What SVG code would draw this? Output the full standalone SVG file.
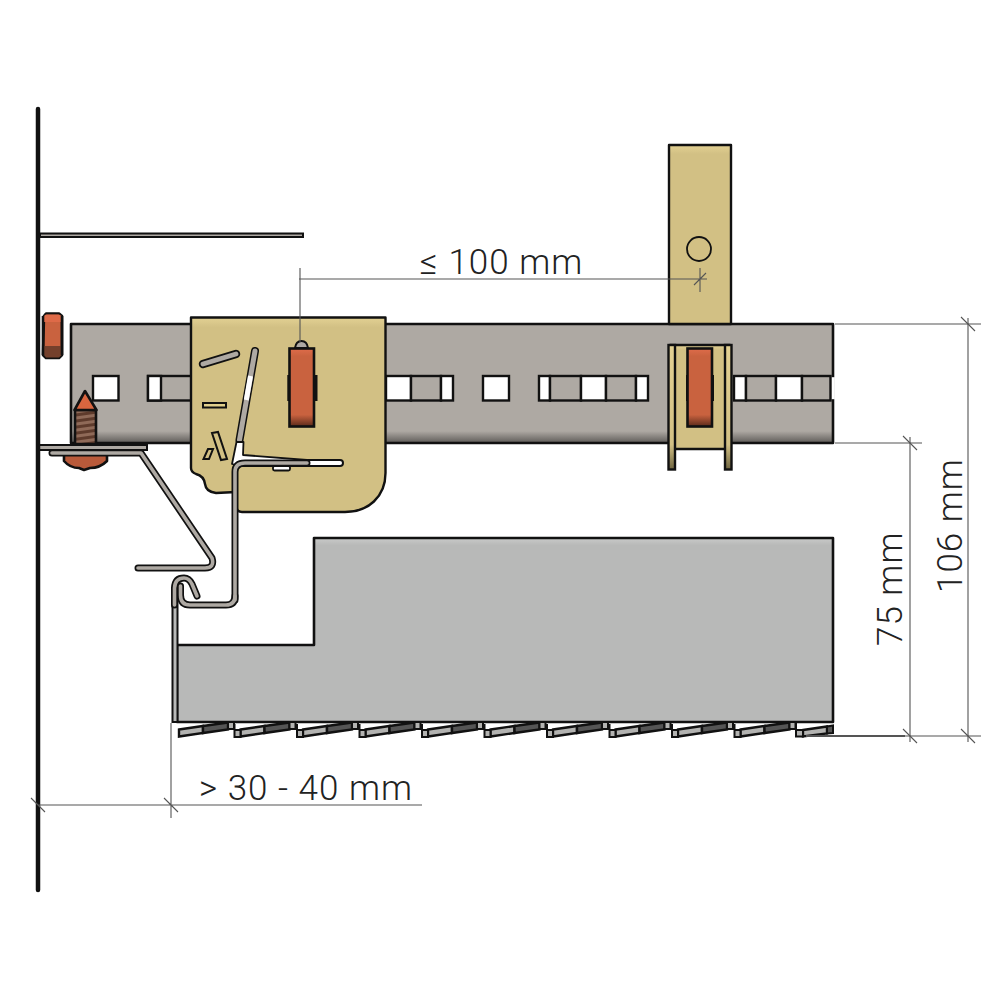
<svg xmlns="http://www.w3.org/2000/svg" xmlns:xlink="http://www.w3.org/1999/xlink" width="1000" height="1000" viewBox="0 0 1000 1000">
<style>
.o{stroke:#111;stroke-width:2.6;stroke-linejoin:round}
.rail{fill:url(#railG)}
.w{fill:#fff;stroke:#111;stroke-width:2.4}
.g{fill:#aea9a3;stroke:#111;stroke-width:2.4}
.y{fill:url(#yelG);stroke:#111;stroke-width:2.4;stroke-linejoin:round}
.yf{fill:url(#flG);stroke:#111;stroke-width:2.4}
.red{fill:url(#redG);stroke:#111;stroke-width:2.6}
.sb{fill:none;stroke:#111;stroke-width:7;stroke-linejoin:round;stroke-linecap:round}
.sg{fill:none;stroke:#aea9a3;stroke-width:3.600;stroke-linejoin:round;stroke-linecap:round}
.dim{fill:none;stroke:#555;stroke-width:1.100}
.t{font-family:"Roboto","Liberation Sans",sans-serif;font-weight:300;font-size:35px;fill:#222;letter-spacing:1px}
.tl{fill:#b3b3b1}.td{fill:#555}
</style>
<defs>
<linearGradient id="railG" x1="0" y1="0" x2="0" y2="1"><stop offset="0" stop-color="#aea9a3"/><stop offset=".9" stop-color="#aea9a3"/><stop offset="1" stop-color="#5e5b58"/></linearGradient>
<linearGradient id="yelG" x1="0" y1="0" x2="0" y2="1"><stop offset="0" stop-color="#e3d193"/><stop offset=".05" stop-color="#d2c084"/><stop offset="1" stop-color="#d2c084"/></linearGradient>
<linearGradient id="flG" x1="0" y1="0" x2="0" y2="1"><stop offset="0" stop-color="#e3d193"/><stop offset=".8" stop-color="#d2c084"/><stop offset="1" stop-color="#6e6440"/></linearGradient>
<linearGradient id="redG" x1="0" y1="0" x2="0" y2="1"><stop offset="0" stop-color="#df6c4a"/><stop offset=".1" stop-color="#c9623f"/><stop offset=".85" stop-color="#c9623f"/><stop offset="1" stop-color="#5a2a1a"/></linearGradient>
<linearGradient id="boxG" x1="0" y1="0" x2="0" y2="1"><stop offset="0" stop-color="#c9cac9"/><stop offset=".04" stop-color="#b8b9b8"/><stop offset="1" stop-color="#b8b9b8"/></linearGradient>
<pattern id="thread" width="8" height="6" patternUnits="userSpaceOnUse" patternTransform="rotate(-8)"><rect width="8" height="6" fill="#8f6a58"/><rect width="8" height="3" fill="#5e3b2c"/></pattern>
<g id="toothBody">
<path d="M0 7.500 L24 4 V11 L0 14.500Z" class="tl" stroke="#111" stroke-width="2.400"/>
<path d="M24 4 L49 0.500 V7.500 L24 11Z" class="td" stroke="#111" stroke-width="2.400"/>
<rect x="49" y="0" width="6" height="7" fill="#b3b3b1" stroke="#111" stroke-width="2"/>
</g>
<g id="tooth">
<use xlink:href="#toothBody"/>
<path d="M-6 2 V15 H0 V8 H-6" fill="#b3b3b1" stroke="#111" stroke-width="2"/>
</g>
</defs>
<rect width="1000" height="1000" fill="#fff"/>

<g id="upper-plate"><rect x="40" y="233.500" width="263" height="3.500" fill="#aea9a3" stroke="#111" stroke-width="2"/></g>

<g id="rail">
<rect class="rail o" x="71" y="324" width="762" height="119"/>
<rect class="w" x="93" y="376" width="25.500" height="24.500"/>
<rect class="g" x="148" y="376" width="44" height="24.500"/><rect class="w" x="148" y="376" width="13" height="24.500"/>
<rect class="w" x="386" y="376" width="25" height="24.500"/><rect class="g" x="411" y="376" width="30" height="24.500"/><rect class="w" x="441" y="376" width="12" height="24.500"/>
<rect class="w" x="483" y="376" width="26" height="24.500"/>
<rect class="w" x="539" y="376" width="11" height="24.500"/><rect class="g" x="550" y="376" width="31" height="24.500"/><rect class="w" x="581" y="376" width="25" height="24.500"/><rect class="g" x="606" y="376" width="30" height="24.500"/><rect class="w" x="636" y="376" width="12" height="24.500"/>
<rect class="w" x="734" y="376" width="12" height="24.500"/><rect class="g" x="746" y="376" width="30" height="24.500"/><rect class="w" x="776" y="376" width="26" height="24.500"/><rect class="g" x="802" y="376" width="28.500" height="24.500"/>
<rect x="831.800" y="377.200" width="3" height="22" fill="#fff"/>
</g>

<g id="hanger">
<rect class="y" x="669" y="145" width="62" height="179"/>
<circle cx="699" cy="249" r="12" fill="none" stroke="#111" stroke-width="1.800"/>
<rect class="y" x="670" y="345" width="60" height="104"/>
<rect class="yf" x="668.500" y="345" width="6.500" height="124.500"/>
<rect class="yf" x="725" y="345" width="6.500" height="124.500"/>
<rect x="686" y="375" width="28" height="26" fill="#111"/>
<rect class="red" x="687.500" y="348.500" width="24.500" height="78"/>
</g>

<g id="bolt">
<path class="o" d="M44 316 L46 313.500 H59 L62 316 V355 L59 358 H46 L43 355Z" fill="#c9623f"/>
<path d="M44 346 H61.500 V355 L59 357.500 H46 L44 355Z" fill="#74402c"/>
<path d="M44 322 H61.500 V316 L59 314.500 H46 L44 316Z" fill="#de6a48"/>
<path d="M43 316 V355 M62 316 V355" stroke="#111" stroke-width="2.600"/>
<rect class="o" x="75" y="410" width="21" height="34" fill="url(#thread)"/>
<path class="o" d="M85 391 L74.500 410 H96.500Z" fill="#d9653f"/>
<path class="o" d="M64 454 H107 V461 Q100 468 90 468 L84 470 L79 468 Q70 468 64 461Z" fill="#b95a3a"/>
</g>

<g id="clip-plate">
<path class="y" d="M191 317.500 H385.500 V473 C385.500 497 368 512 345 512 H242 Q236 512 236 505 V492 L216 493 Q206 492 205 484 Q204 476 196 474 Q191 472 191 468Z"/>
<path d="M203 364 L236 354" fill="none" stroke="#111" stroke-width="8.500" stroke-linecap="round"/>
<path d="M203 364 L236 354" fill="none" stroke="#aea9a3" stroke-width="4.800" stroke-linecap="round"/>
<rect x="203" y="403" width="23" height="4.500" fill="#e1cf8c" stroke="#111" stroke-width="2"/>
<path d="M212 433 L218 432 L227 459 L221 460Z" fill="#d2c084" stroke="#111" stroke-width="2"/>
<path d="M208 449 L213 449 L209 459 L203.500 459Z" fill="#d2c084" stroke="#111" stroke-width="2"/>
<path d="M255 351 L239 442 L233 464 L243 456Z" fill="none"/>
<path d="M255 351 L239.500 440" fill="none" stroke="#111" stroke-width="8" stroke-linecap="round"/>
<path d="M255 351 L239.500 440" fill="none" stroke="#aea9a3" stroke-width="5" stroke-linecap="round"/>
<path d="M250.500 376 L246.300 400" fill="none" stroke="#fff" stroke-width="5"/>
<path d="M236.500 442 L243.500 442 L243 455 L307 460 L307 466 L240 466 L232 464Z" fill="#fff" stroke="#111" stroke-width="1.800" stroke-linejoin="round"/>
<rect x="305" y="460" width="38" height="6" rx="3" fill="#fff" stroke="#111" stroke-width="2"/>
<rect x="273" y="466" width="17" height="4.500" rx="1.500" fill="#fff" stroke="#111" stroke-width="1.800"/>
<rect class="red" x="289.500" y="348.500" width="24.500" height="78"/>
<rect x="287.300" y="375" width="2.500" height="26" fill="#111"/><rect x="314" y="375" width="3.500" height="26" fill="#111"/>
<path d="M295 348 Q296 341 301.500 341 Q307 341 308 348Z" fill="#aea9a3" stroke="#111" stroke-width="2"/>
</g>

<g id="z-bracket">
<rect x="39" y="445" width="108" height="5" fill="#aea9a3" stroke="#111" stroke-width="2"/>
<path class="sb" d="M52 453 H141 L212 558 Q215 568 205 568 H138"/>
<path class="sg" d="M52 453 H141 L212 558 Q215 568 205 568 H138"/>
</g>

<g id="grille">
<path class="o" d="M314 538 H833 V722 H177 V645 H314Z" fill="url(#boxG)"/>
<rect x="172.500" y="590" width="5" height="132" fill="#b8b9b8" stroke="#111" stroke-width="2"/>
<use xlink:href="#toothBody" x="179" y="722"/>
<use xlink:href="#tooth" x="240.500" y="722"/>
<use xlink:href="#tooth" x="303" y="722"/>
<use xlink:href="#tooth" x="365.500" y="722"/>
<use xlink:href="#tooth" x="428" y="722"/>
<use xlink:href="#tooth" x="490.500" y="722"/>
<use xlink:href="#tooth" x="553" y="722"/>
<use xlink:href="#tooth" x="615.500" y="722"/>
<use xlink:href="#tooth" x="678" y="722"/>
<use xlink:href="#tooth" x="740.500" y="722"/>
<path d="M803 730 L827 726.500 V733.500 L803 736.500Z" fill="#b3b3b1" stroke="#111" stroke-width="2.400"/>
<path d="M827 726.500 L833 725.500 V733 L827 733.500Z" fill="#555" stroke="#111" stroke-width="2"/>
<path d="M796 723 V736.500 H803 V730 H796" fill="#b3b3b1" stroke="#111" stroke-width="2"/>
</g>

<g id="hook">
<path class="sb" d="M235 600 V472 Q235 463 245 463 L307 463"/>
<path class="sb" d="M235 596 Q235 605 226 605 H190 Q180.500 605 180.500 595 V586"/>
<path class="sb" d="M174.500 605 V588 Q175 578 184 578 Q189 578 192 584 L197 596"/>
<path class="sg" d="M235 600 V472 Q235 463 245 463 L307 463"/>
<path class="sg" d="M235 596 Q235 605 226 605 H190 Q180.500 605 180.500 595 V586"/>
<path class="sg" d="M174.500 605 V588 Q175 578 184 578 Q189 578 192 584 L197 596"/>
</g>

<g id="wall"><path d="M38 109 V890" stroke="#111" stroke-width="4.500" stroke-linecap="round" fill="none"/></g>

<g id="connectors">
<path class="dim" d="M299 279 H707 M300 268 V342 M700 268 V292 M694 285 L706 273"/>
<path class="dim" d="M835 324 H981 M835 443 H922 M968 318 V742 M910 437 V742 M900 736 H981"/>
<path class="dim" d="M961 317 L975 331 M903 436 L917 450 M903 729 L917 743 M961 729 L975 743"/>
<path class="dim" d="M38 805 H422 M171 723 V818 M31 798 L45 812 M164 798 L178 812"/>
<path d="M806 736 H905" stroke="#555" stroke-width="1.800" fill="none"/>
</g>

<g id="labels">
<text class="t" x="420" y="274">≤ 100 mm</text>
<text class="t" x="199" y="800">&gt; 30 - 40 mm</text>
<text class="t" transform="translate(902 646) rotate(-90)">75 mm</text>
<text class="t" transform="translate(962 593) rotate(-90)">106 mm</text>
</g>
</svg>
